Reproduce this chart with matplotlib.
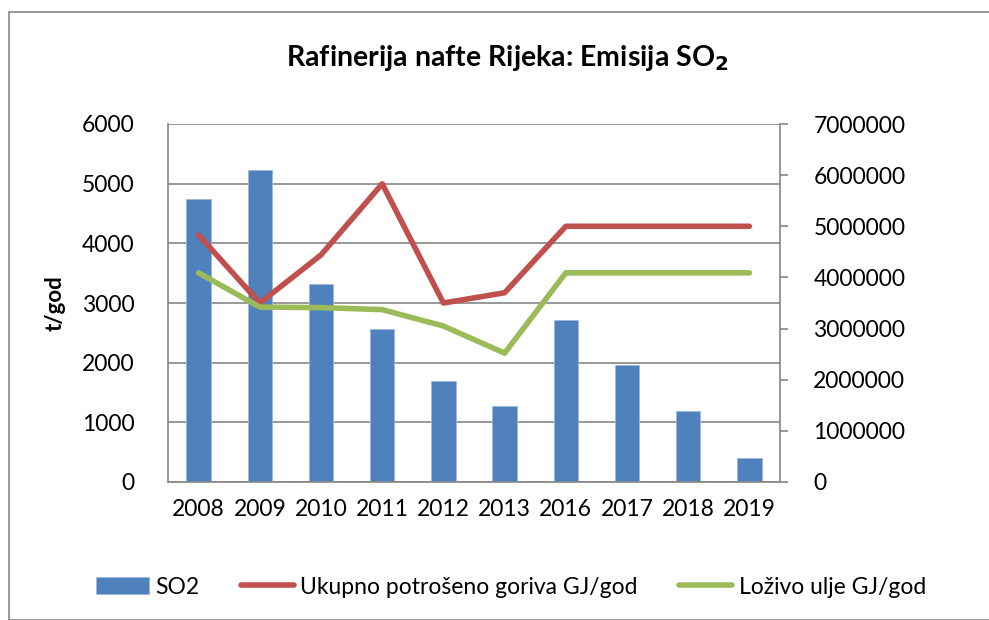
import matplotlib.pyplot as plt
from matplotlib.patches import Rectangle
import numpy as np

# podaci procitani s grafa
godine = ['2008', '2009', '2010', '2011', '2012', '2013', '2016', '2017', '2018', '2019']
so2 = [4748, 5222, 3326, 2572, 1701, 1270, 2722, 1958, 1186, 409]
ukupno_gorivo = [4830000, 3500000, 4440000, 5830000, 3500000, 3700000,
                 5000000, 5000000, 5000000, 5000000]
lozivo_ulje = [4090000, 3420000, 3410000, 3370000, 3050000, 2520000,
               4090000, 4090000, 4090000, 4090000]

plt.rcParams['font.family'] = ['Lato', 'DejaVu Sans']

W, H = 989, 620
fig = plt.figure(figsize=(W / 100, H / 100), dpi=100)

# okvir grafikona
fig.patches.append(Rectangle((9 / W, 0), 1.0, 1 - 12 / H, transform=fig.transFigure,
                             fill=False, edgecolor='#868686', linewidth=1.2))

ax = fig.add_axes([168 / W, 1 - 482 / H, (780 - 168) / W, (482 - 124) / H])
x = np.arange(len(godine))

ax.bar(x, so2, width=0.4, color='#4F81BD', edgecolor='#9CB7D8', linewidth=0.6,
       label='SO2', zorder=2)
ax.set_ylim(0, 6000)
ax.set_yticks(range(0, 6001, 1000))
ax.set_xlim(-0.5, len(godine) - 0.5)
ax.set_xticks(x)
ax.set_xticklabels(godine)
ax.grid(axis='y', color='#868686', linewidth=1.2, zorder=0)
ax.set_axisbelow(True)
ax.set_ylabel('t/god', fontsize=16, fontweight='bold', labelpad=12)

ax2 = ax.twinx()
ax2.plot(x, ukupno_gorivo, color='#C0504D', linewidth=4, solid_capstyle='round',
         label='Ukupno potrošeno goriva GJ/god', zorder=3)
ax2.plot(x, lozivo_ulje, color='#9BBB59', linewidth=4, solid_capstyle='round',
         label='Loživo ulje GJ/god', zorder=3)
ax2.set_ylim(0, 7000000)
ax2.set_yticks(range(0, 7000001, 1000000))
ax2.set_yticklabels([str(v) for v in range(0, 7000001, 1000000)])

for a in (ax, ax2):
    for s in a.spines.values():
        s.set_visible(False)
    a.tick_params(labelsize=16.5, colors='black', length=0)
ax.spines['left'].set_visible(True)
ax.spines['left'].set_color('#868686')
ax.spines['left'].set_linewidth(1.2)
ax.spines['bottom'].set_visible(True)
ax.spines['bottom'].set_color('#868686')
ax.spines['bottom'].set_linewidth(1.2)
ax2.spines['right'].set_visible(True)
ax2.spines['right'].set_color('#868686')
ax2.spines['right'].set_linewidth(1.2)
ax.tick_params(axis='y', pad=24)
ax.tick_params(axis='x', pad=12)
ax2.tick_params(axis='y', length=6, width=1.2, color='#868686', direction='out', pad=18)

fig.text(507 / W, 1 - 58 / H, r'Rafinerija nafte Rijeka: Emisija SO$_\mathbf{2}$',
         ha='center', va='center', fontsize=20.5, fontweight='bold')

h1, l1 = ax.get_legend_handles_labels()
h2, l2 = ax2.get_legend_handles_labels()
fig.legend(h1 + h2, l1 + l2, loc='center', bbox_to_anchor=(511 / W, 1 - 587 / H),
           ncol=3, frameon=False, fontsize=16.5, handlelength=2.3, handletextpad=0.3,
           columnspacing=1.8)

fig.savefig('out.png', dpi=100)
